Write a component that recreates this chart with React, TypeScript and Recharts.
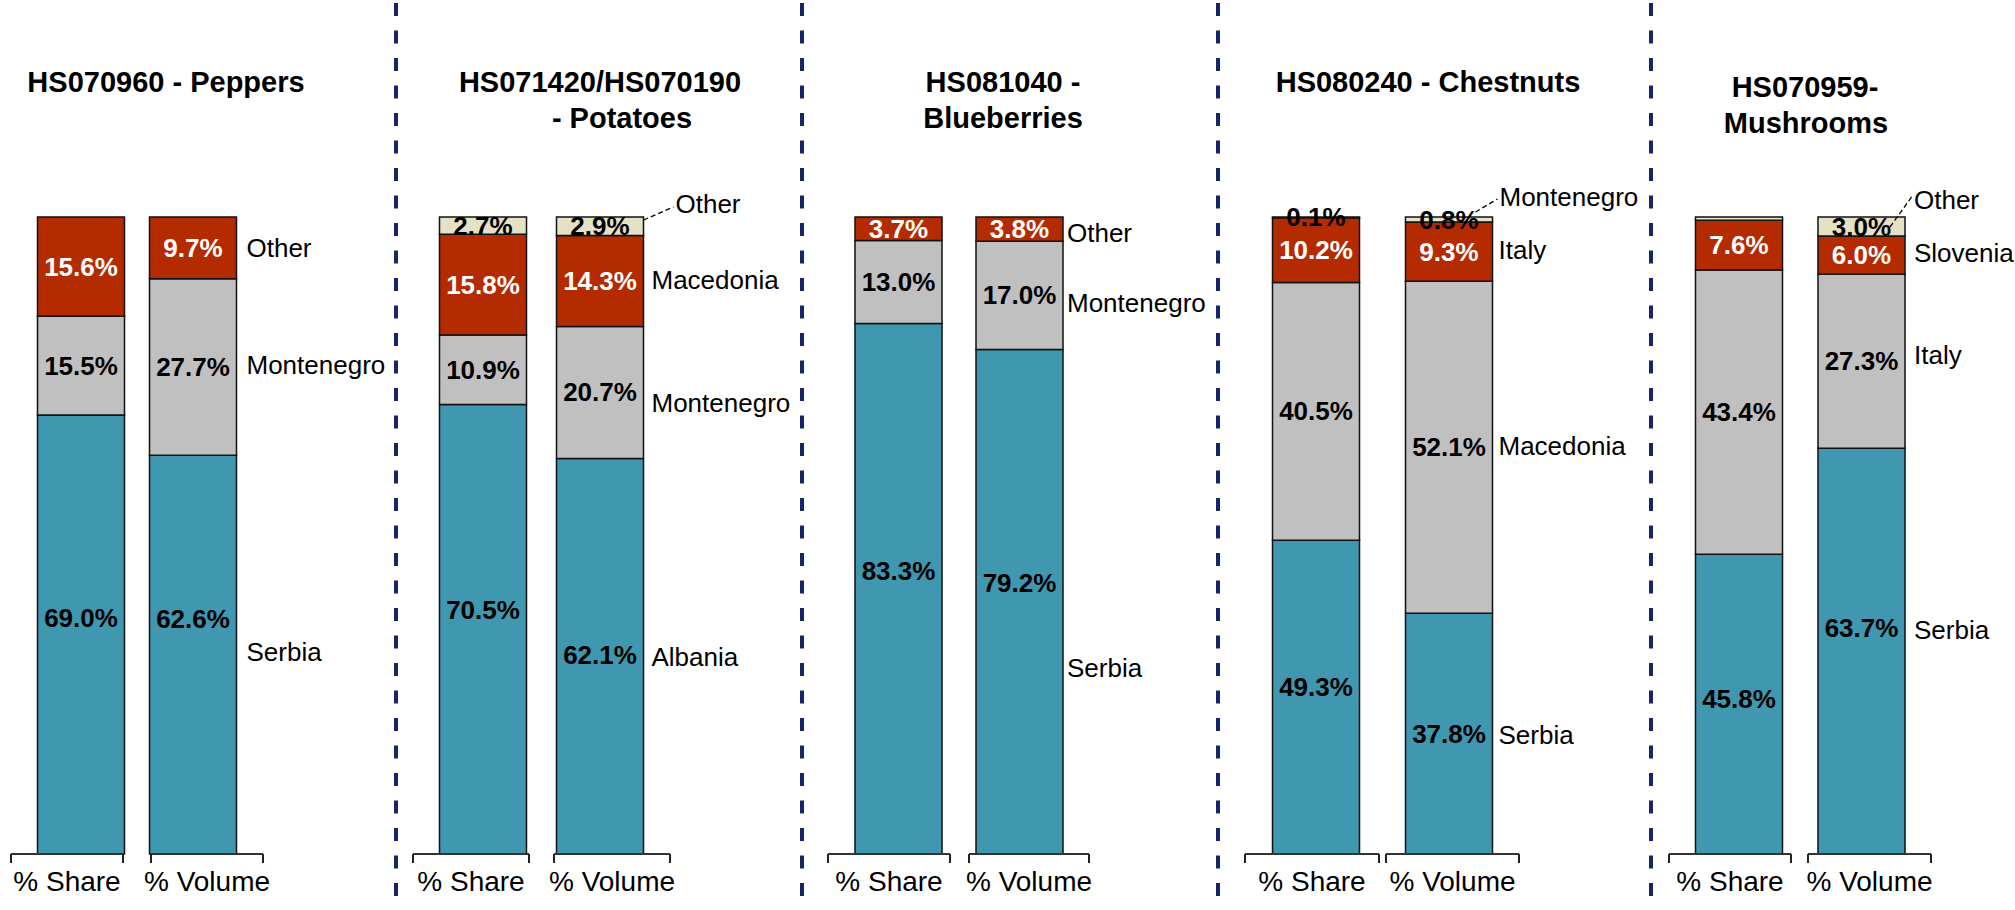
import React from "react";
import { BarChart, Bar, XAxis, YAxis, LabelList } from "recharts";

const FONT = '"Liberation Sans", Arial, Helvetica, sans-serif';

const categories = ["% Share", "% Volume"];

const titles = [
  ["HS070960 - Peppers"],
  ["HS071420/HS070190", "- Potatoes"],
  ["HS081040 -", "Blueberries"],
  ["HS080240 - Chestnuts"],
  ["HS070959-", "Mushrooms"],
];

// stack order bottom -> top (teal, grey, red, cream)
const seriesNames = [
  ["Serbia", "Montenegro", "Other"],
  ["Albania", "Montenegro", "Macedonia", "Other"],
  ["Serbia", "Montenegro", "Other"],
  ["Serbia", "Macedonia", "Italy", "Montenegro"],
  ["Serbia", "Italy", "Slovenia", "Other"],
];

const shareValues = [
  [69.0, 15.5, 15.6],
  [70.5, 10.9, 15.8, 2.7],
  [83.3, 13.0, 3.7],
  [49.3, 40.5, 10.2, 0.1],
  [45.8, 43.4, 7.6, 0.5],
];

const volumeValues = [
  [62.6, 27.7, 9.7],
  [62.1, 20.7, 14.3, 2.9],
  [79.2, 17.0, 3.8],
  [37.8, 52.1, 9.3, 0.8],
  [63.7, 27.3, 6.0, 3.0],
];

// share segments that carry no printed value
const unlabelledShare = [[], [], [], [], [3]];

const fills = ["#3F97B0", "#C0C0C0", "#B52B00", "#E4E1C5"];
const NAVY = "#17256B";

// page geometry (px) of each panel: axis extents, bar centres, label nudges
const layouts = [
  { share: [11, 123], shareBar: 80.5, volume: [151, 263], volumeBar: 192.5, titleX: [166], titleY: 82, nameDx: 10, nameDy: [-3, -2, 0], tealDy: [-16, -36] },
  { share: [413, 529], shareBar: 482.5, volume: [554, 670], volumeBar: 599.5, titleX: [600, 622], titleY: 82, nameDx: 8, nameDy: [1, 11, -1, 0], tealDy: [-19, -1],
    callout: { textDx: 32, textDy: -13, from: [0, 3], to: [30, -10] } },
  { share: [828, 950], shareBar: 898, volume: [969, 1089], volumeBar: 1019, titleX: [1003, 1003], titleY: 82, nameDx: 4, nameDy: [66, 8, 4], tealDy: [-18, -19] },
  { share: [1245, 1379], shareBar: 1315.5, volume: [1386, 1519], volumeBar: 1448.5, titleX: [1428], titleY: 82, nameDx: 6, nameDy: [1, -1, -2, 0], tealDy: [-10, 0],
    callout: { textDx: 7, textDy: -20, from: [-17, -5], to: [5, -18] } },
  { share: [1669, 1791], shareBar: 1738.5, volume: [1808, 1931], volumeBar: 1861, titleX: [1805, 1806], titleY: 87, nameDx: 9, nameDy: [-21, -6, -2, 0], tealDy: [-5, -23],
    callout: { textDx: 9, textDy: -17, from: [-15, 10], to: [8, -22] } },
];

const separators = [396, 802, 1218, 1651];

const PLOT_TOP = 217;
const PLOT_BOTTOM = 854;
const H = 910;
const BAR_W = 87;
const BAND = 120;

function box(props: any) {
  const vb = props.viewBox ?? props;
  return { x: Number(vb.x), y: Number(vb.y), width: Number(vb.width), height: Number(vb.height) };
}

const valueLabel = (panel: number, which: number, series: number) => (props: any) => {
  const { x, y, width, height } = box(props);
  const value = props.value;
  if (value == null) return null;
  if (which === 0 && unlabelledShare[panel].includes(series)) return null;
  const dy = series === 0 ? layouts[panel].tealDy[which] : 0;
  return (
    <text
      x={x + width / 2}
      y={y + height / 2 + dy}
      textAnchor="middle"
      dominantBaseline="central"
      fontFamily={FONT}
      fontSize={26}
      fontWeight="bold"
      fill={series === 2 ? "#fff" : "#000"}
    >
      {`${Number(value).toFixed(1)}%`}
    </text>
  );
};

const nameLabel = (panel: number, series: number) => (props: any) => {
  const { x, y, width, height } = box(props);
  const lay: any = layouts[panel];
  const right = x + width;
  const name = seriesNames[panel][series];
  const style = { fontFamily: FONT, fontSize: 26, fill: "#000" };
  if (series === 3 && lay.callout) {
    const c = lay.callout;
    return (
      <g>
        <line
          x1={right + c.from[0]}
          y1={y + c.from[1]}
          x2={right + c.to[0]}
          y2={y + c.to[1]}
          stroke="#000"
          strokeWidth={1.3}
          strokeDasharray="5 3"
        />
        <text x={right + c.textDx} y={y + c.textDy} dominantBaseline="central" {...style}>
          {name}
        </text>
      </g>
    );
  }
  return (
    <text x={right + lay.nameDx} y={y + height / 2 + lay.nameDy[series]} dominantBaseline="central" {...style}>
      {name}
    </text>
  );
};

// axis title at the centre tick, with end marks at both ends of the axis
function FrameTick(props: any) {
  const { x, y, payload, label, half } = props;
  if (payload.value !== 0.5) return <g />;
  return (
    <g>
      <line x1={x - half} x2={x - half} y1={y} y2={y + 9} stroke="#222" strokeWidth={2} />
      <line x1={x + half} x2={x + half} y1={y} y2={y + 9} stroke="#222" strokeWidth={2} />
      <text x={x} y={y + 27} textAnchor="middle" dominantBaseline="central" fontFamily={FONT} fontSize={28} fill="#000">
        {label}
      </text>
    </g>
  );
}

function StackBar({ panel, which }: { panel: number; which: number }) {
  const lay: any = layouts[panel];
  const [a0, a1] = which === 0 ? lay.share : lay.volume;
  const barC = which === 0 ? lay.shareBar : lay.volumeBar;
  // band of fixed width centred on the bar, expressed as axis padding
  const padLeft = barC - BAND / 2 - a0;
  const padRight = a1 - (barC + BAND / 2);
  const mLeft = 10;
  const mRight = which === 1 ? 200 : 10;
  const values = which === 0 ? shareValues[panel] : volumeValues[panel];
  const row: Record<string, any> = { cat: categories[which] };
  values.forEach((v, i) => (row[`s${i}`] = v));
  const axisH = 40;
  const half = (a1 - a0) / 2;

  return (
    <div style={{ position: "absolute", left: a0 - mLeft, top: 0 }}>
      <BarChart
        width={a1 - a0 + mLeft + mRight}
        height={H}
        data={[row]}
        margin={{ top: PLOT_TOP, right: mRight, bottom: H - PLOT_BOTTOM - axisH, left: mLeft }}
        stackOffset="expand"
        barSize={BAR_W}
      >
        <XAxis
          xAxisId="frame"
          type="number"
          domain={[0, 1]}
          allowDataOverflow
          ticks={[0.5]}
          interval={0}
          height={axisH}
          tickSize={0}
          tickMargin={0}
          tickLine={false}
          axisLine={{ stroke: "#333", strokeWidth: 1.8 }}
          tick={(p: any) => <FrameTick {...p} label={categories[which]} half={half} />}
        />
        <XAxis
          xAxisId="bars"
          dataKey="cat"
          type="category"
          hide
          height={0}
          padding={{ left: padLeft, right: padRight }}
        />
        <YAxis hide domain={[0, 1]} />
        {values.map((_, i) => (
          <Bar
            key={i}
            xAxisId="bars"
            dataKey={`s${i}`}
            stackId="a"
            fill={fills[i]}
            stroke="#111"
            strokeWidth={1.5}
            isAnimationActive={false}
          >
            <LabelList dataKey={`s${i}`} content={valueLabel(panel, which, i)} />
            {which === 1 && <LabelList dataKey={`s${i}`} content={nameLabel(panel, i)} />}
          </Bar>
        ))}
      </BarChart>
    </div>
  );
}

export default function App() {
  return (
    <div style={{ position: "absolute", left: 0, top: 0, width: 2015, height: H, background: "#fff", overflow: "hidden" }}>
      <svg width={2015} height={H} style={{ position: "absolute", left: 0, top: 0 }}>
        {separators.map((x) => (
          <line key={x} x1={x} x2={x} y1={3} y2={H} stroke={NAVY} strokeWidth={4} strokeDasharray="13 14.5" />
        ))}
        {titles.map((lines, p) =>
          lines.map((t, j) => (
            <text
              key={`${p}-${j}`}
              x={layouts[p].titleX[j]}
              y={layouts[p].titleY + j * 36}
              textAnchor="middle"
              dominantBaseline="central"
              fontFamily={FONT}
              fontSize={29}
              fontWeight="bold"
              fill="#000"
            >
              {t}
            </text>
          ))
        )}
      </svg>
      {layouts.map((_, p) => (
        <React.Fragment key={p}>
          <StackBar panel={p} which={0} />
          <StackBar panel={p} which={1} />
        </React.Fragment>
      ))}
    </div>
  );
}
